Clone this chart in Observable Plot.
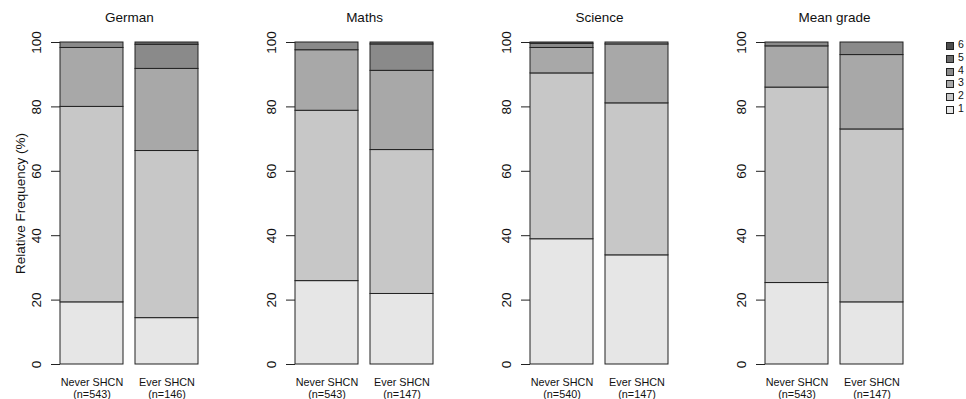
<!DOCTYPE html>
<html>
<head>
<meta charset="utf-8">
<script src="https://cdn.jsdelivr.net/npm/d3@7"></script>
<script src="https://cdn.jsdelivr.net/npm/@observablehq/plot@0.6"></script>
<style>
  html, body { margin: 0; padding: 0; background: #fff; overflow: hidden; }
  #wrap { position: relative; width: 966px; height: 399px; overflow: hidden; }
  #legend { position: absolute; left: 946px; top: 39px; font-family: "Liberation Sans", Arial, sans-serif; font-size: 10.5px; color: #111; }
  .row { position: relative; height: 12.8px; white-space: nowrap; }
  .sw { position: absolute; left: 0; top: 3px; width: 6px; height: 6px; border: 1px solid #222; }
  .lb { position: absolute; left: 12px; top: 0px; line-height: 11px; }
</style>
</head>
<body>
<div id="wrap"></div>
<script>
// ---- data ----
const subjects = ["German", "Maths", "Science", "Mean grade"];
const groups = ["Never SHCN", "Ever SHCN"];
const grades = ["1", "2", "3", "4", "5", "6"];
const nNever = [543, 543, 540, 543];
const nEver = [146, 147, 147, 147];
// relative frequency (%) per grade 1..6
const germanNever = [19.3, 60.7, 18.3, 1.7, 0, 0];
const germanEver = [14.4, 51.9, 25.5, 7.5, 0.7, 0];
const mathsNever = [25.9, 52.9, 18.8, 2.4, 0, 0];
const mathsEver = [21.9, 44.7, 24.6, 8.2, 0.6, 0];
const scienceNever = [38.9, 51.5, 7.9, 1.3, 0.4, 0];
const scienceEver = [33.9, 47.2, 18.3, 0.6, 0, 0];
const meanNever = [25.3, 60.7, 12.8, 1.2, 0, 0];
const meanEver = [19.3, 53.7, 23.1, 3.9, 0, 0];
const yTicks = [0, 20, 40, 60, 80, 100];
const yLabel = "Relative Frequency (%)";
const greys = ["#e6e6e6", "#c7c7c7", "#a8a8a8", "#8a8a8a", "#6b6b6b", "#4d4d4d"];

const neverSeries = [germanNever, mathsNever, scienceNever, meanNever];
const everSeries = [germanEver, mathsEver, scienceEver, meanEver];

const rows = [];
subjects.forEach((s, i) => {
  [[groups[0], neverSeries[i]], [groups[1], everSeries[i]]].forEach(([g, vals]) => {
    vals.forEach((v, k) => { if (v > 0) rows.push({subject: s, group: g, grade: grades[k], value: v}); });
  });
});
const xlabels = [];
subjects.forEach((s, i) => {
  xlabels.push({subject: s, group: groups[0], label: `${groups[0]}\n(n=${nNever[i]})`});
  xlabels.push({subject: s, group: groups[1], label: `${groups[1]}\n(n=${nEver[i]})`});
});

const FONT = '"Liberation Sans", Arial, Helvetica, sans-serif';

const plot = Plot.plot({
  width: 966,
  height: 399,
  marginLeft: 59,
  marginRight: 62,
  marginTop: 42,
  marginBottom: 35,
  style: {fontFamily: FONT, fontSize: "13.5px", color: "#222", background: "#fff", overflow: "visible"},
  fx: {domain: subjects, paddingInner: 0.412, paddingOuter: 0, axis: null, label: null},
  x: {domain: groups, paddingInner: 0.165, paddingOuter: 0, axis: null, label: null},
  y: {domain: [0, 100], label: null},
  color: {domain: grades, range: greys},
  marks: [
    Plot.barY(rows, {fx: "subject", x: "group", y: "value", fill: "grade", stroke: "#222", strokeWidth: 1}),
    Plot.axisY({ticks: yTicks, tickSize: 9, tickFormat: () => "", facetAnchor: null, label: null}),
    Plot.text(yTicks, {y: d => d, text: d => String(d), frameAnchor: "left", dx: -20, rotate: -90, textAnchor: "middle", lineAnchor: "bottom", fontSize: 13.5, fill: "#111"}),
    Plot.text(subjects, {fx: d => d, text: d => d, frameAnchor: "top", dy: -20.5, lineAnchor: "bottom", fontSize: 13.5, fill: "#111"}),
    Plot.text(xlabels, {fx: "subject", x: "group", text: "label", frameAnchor: "bottom", dy: 13.3, lineAnchor: "top", lineHeight: 1.1, fontSize: 10.8, fill: "#111"}),
    Plot.text([yLabel], {fx: () => subjects[0], text: d => d, frameAnchor: "left", dx: -36, rotate: -90, textAnchor: "middle", lineAnchor: "bottom", fontSize: 13.5, fill: "#111"})
  ]
});
document.getElementById("wrap").appendChild(plot);

// legend (grade 6 on top)
const colorScale = plot.scale("color");
const legend = document.createElement("div");
legend.id = "legend";
grades.slice().reverse().forEach(g => {
  const r = document.createElement("div");
  r.className = "row";
  const sw = document.createElement("span");
  sw.className = "sw";
  sw.style.background = colorScale.apply(g);
  const lb = document.createElement("span");
  lb.className = "lb";
  lb.textContent = g;
  r.appendChild(sw); r.appendChild(lb);
  legend.appendChild(r);
});
document.getElementById("wrap").appendChild(legend);
</script>
</body>
</html>
